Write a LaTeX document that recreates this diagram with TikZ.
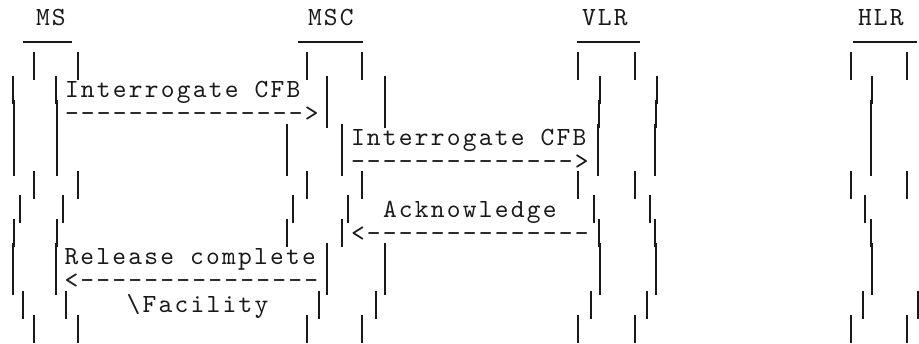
\documentclass[tikz,border=0pt]{standalone}
\usepackage{fontspec}
\newfontfamily\asciimono{lmmono10-regular.otf}[LetterSpace=8.55]
\definecolor{ink}{RGB}{25,25,25}
\begin{document}
\begin{tikzpicture}[x=1pt,y=-1pt,
  txt/.style={anchor=base west, inner sep=0pt, outer sep=0pt,
    text height=17pt, text depth=5pt,
    font=\asciimono\fontsize{26.2}{28}\selectfont, text=ink},
  bar/.style={draw=ink, line width=1.8pt},
  head/.style={draw=ink, line width=2pt}]
\useasboundingbox (0,0) rectangle (919,344);
% lifeline heads
\node[txt] (lblMS)  at (36,26)  {MS};
\node[txt] (lblMSC) at (308,26) {MSC};
\node[txt] (lblVLR) at (582,26) {VLR};
\node[txt] (lblHLR) at (858,26) {HLR};
\coordinate (hMSa) at (23,42);  \coordinate (hMSb) at (72,42);
\coordinate (hMSCa) at (298,42); \coordinate (hMSCb) at (363,42);
\coordinate (hVLRa) at (577,42); \coordinate (hVLRb) at (640,42);
\coordinate (hHLRa) at (853,42); \coordinate (hHLRb) at (917,42);
\draw[head] (hMSa) -- (hMSb);
\draw[head] (hMSCa) -- (hMSCb);
\draw[head] (hVLRa) -- (hVLRb);
\draw[head] (hHLRa) -- (hHLRb);
% vertical bars (x / row)
\foreach \x/\r in {34/3,78/3,13/4,56/4,14/5,57/5,14/6,57/6,14/7,57/7,34/8,78/8,20/9,63/9,14/10,57/10,13/11,56/11,13/12,56/12,23/13,66/13,34/14,78/14,
  307/3,362/3,327/4,385/4,327/5,385/5,287/6,342/6,287/7,342/7,307/8,362/8,293/9,348/9,287/10,342/10,327/11,385/11,327/12,385/12,319/13,376/13,307/14,362/14,
  578/3,635/3,600/4,657/4,599/5,656/5,598/6,655/6,598/7,655/7,578/8,635/8,594/9,650/9,599/10,655/10,600/11,656/11,600/12,656/12,591/13,647/13,578/14,635/14,
  851/3,907/3,872/4,871/5,871/6,871/7,851/8,907/8,865/9,871/10,872/11,872/12,863/13,918/13,851/14,907/14}
  \draw[bar] (\x,{52+(\r-3)*23.9}) -- ++(0,28);
% messages
\node[txt] (msg1) at (65,97.7)   {Interrogate CFB};
\node[txt] (arr1) at (65,121.6)  {--------------->};
\node[txt] (msg2) at (351,145.5) {Interrogate CFB};
\node[txt] (arr2) at (351,169.4) {-------------->};
\node[txt] (msg3) at (383,217.2) {Acknowledge};
\node[txt] (arr3) at (351,241.1) {<--------------};
\node[txt] (msg4) at (64.5,265)  {Release complete};
\node[txt] (arr4) at (64.5,288.9) {<---------------};
\node[txt] (note4) at (126.6,312.8) {\textbackslash Facility};
\end{tikzpicture}
\end{document}
